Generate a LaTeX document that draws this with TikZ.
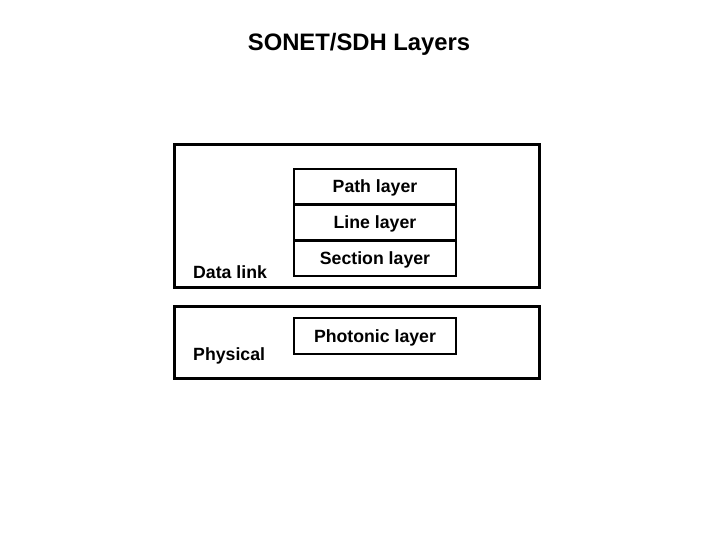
\documentclass[tikz,border=0pt]{standalone}
\usepackage{fontspec}
\setmainfont{Liberation Sans}
\begin{document}
\begin{tikzpicture}[x=1pt,y=-1pt,
  groupbox/.style={draw,line width=3pt,minimum width=365pt,inner sep=0pt},
  layerbox/.style={draw,line width=2pt,minimum width=162pt,minimum height=36pt,inner sep=0pt,
    text height=13pt,text depth=1pt,font=\fontsize{17.7}{20}\selectfont\bfseries},
  grouplabel/.style={anchor=base west,inner sep=0pt,font=\fontsize{17.7}{20}\selectfont\bfseries}]
\useasboundingbox (0,0) rectangle (720,540);
\node[anchor=base,inner sep=0pt,font=\fontsize{23.8}{28}\selectfont\bfseries] (title) at (359,51) {SONET/SDH Layers};
\node[groupbox,minimum height=143pt] (datalink) at (357,216) {};
\node[groupbox,minimum height=71.5pt] (physical) at (357,342.25) {};
\node[layerbox] (path) at (375,187) {Path layer};
\node[layerbox] (line) at (375,222.5) {Line layer};
\node[layerbox] (section) at (375,258) {Section layer};
\node[layerbox] (photonic) at (375,336) {Photonic layer};
\node[grouplabel] (dl) at (193,278) {Data link};
\node[grouplabel] (ph) at (193,360) {Physical};
\end{tikzpicture}
\end{document}
